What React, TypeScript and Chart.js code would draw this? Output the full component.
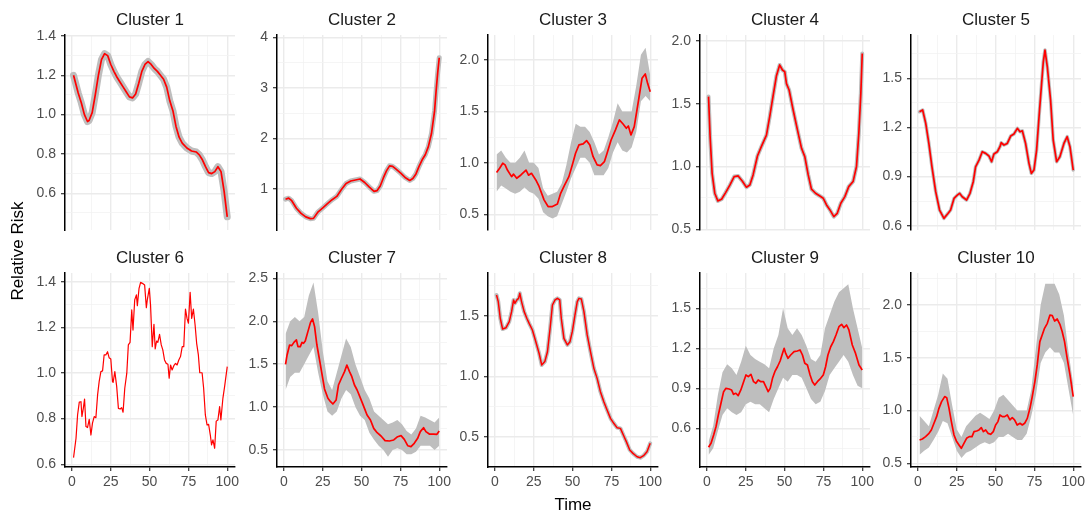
import React, { useEffect, useRef } from "react";
import { Chart, registerables } from "chart.js";

Chart.register(...registerables);

const FONT = '"Liberation Sans", Arial, Helvetica, sans-serif';

// Shared time axis ticks
const timeTicks = [0, 25, 50, 75, 100];
const timeMinor = [12.5, 37.5, 62.5, 87.5];

// Time points of the spread envelopes (grey band of individual trajectories)
const bandT = [1, 4, 7, 10, 13, 16, 19, 22, 25, 28, 31, 34, 37, 40, 43, 46, 49, 52, 55, 58, 61, 64, 67, 70, 73, 76, 79, 82, 85, 88, 91, 94, 97, 100];

// Cluster 1
const c1T = [1, 4, 6, 8, 10, 11, 13, 15, 17, 19, 21, 23, 25, 27, 29, 31, 33, 35, 37, 39, 41, 43, 45, 47, 49, 51, 53, 55, 57, 59, 61, 63, 65, 67, 69, 71, 74, 77, 80, 82, 84, 86, 88, 90, 92, 94, 96, 98, 100];
const c1V = [1.20, 1.11, 1.06, 1.00, 0.965, 0.97, 1.01, 1.10, 1.20, 1.28, 1.31, 1.30, 1.255, 1.22, 1.19, 1.165, 1.14, 1.115, 1.09, 1.085, 1.105, 1.16, 1.22, 1.255, 1.27, 1.255, 1.235, 1.22, 1.20, 1.18, 1.14, 1.07, 1.02, 0.94, 0.885, 0.855, 0.83, 0.815, 0.81, 0.795, 0.77, 0.735, 0.705, 0.70, 0.71, 0.735, 0.71, 0.61, 0.48];

// Cluster 2
const c2T = [1, 3, 5, 8, 11, 14, 17, 19, 22, 25, 28, 31, 34, 37, 40, 43, 46, 49, 52, 55, 58, 60, 62, 64, 66, 68, 70, 72, 75, 78, 81, 83, 85, 87, 89, 91, 93, 95, 97, 98, 99, 100];
const c2V = [0.80, 0.82, 0.77, 0.62, 0.52, 0.45, 0.415, 0.42, 0.55, 0.63, 0.71, 0.79, 0.855, 0.99, 1.11, 1.16, 1.18, 1.20, 1.13, 1.04, 0.955, 0.97, 1.06, 1.22, 1.36, 1.46, 1.45, 1.40, 1.32, 1.23, 1.17, 1.21, 1.30, 1.45, 1.58, 1.68, 1.84, 2.10, 2.55, 2.95, 3.30, 3.60];

// Cluster 3
const c3T = [1, 3, 5, 6.5, 8, 10.7, 12, 14, 16.7, 20, 21.6, 23.5, 26.3, 28.4, 31.6, 34.2, 37, 40.2, 42.3, 44.9, 47.6, 49.8, 51.9, 54.1, 56.8, 59, 61.1, 63.2, 65.8, 67.9, 70.5, 72.2, 74.8, 77.6, 80.1, 82.5, 84.6, 85.9, 87.6, 89.7, 92.5, 94.7, 96.8, 98.3, 100];
const c3V = [0.905, 0.947, 0.996, 0.98, 0.93, 0.866, 0.89, 0.85, 0.882, 0.93, 0.88, 0.898, 0.834, 0.77, 0.64, 0.575, 0.575, 0.60, 0.704, 0.785, 0.866, 0.98, 1.093, 1.174, 1.184, 1.216, 1.174, 1.06, 0.98, 0.973, 1.012, 1.093, 1.222, 1.32, 1.417, 1.378, 1.336, 1.358, 1.271, 1.352, 1.611, 1.822, 1.864, 1.773, 1.692];
const c3Lo = [0.72, 0.78, 0.75, 0.72, 0.70, 0.72, 0.76, 0.72, 0.70, 0.65, 0.52, 0.48, 0.46, 0.48, 0.60, 0.72, 0.85, 0.95, 1.05, 1.05, 1.00, 0.88, 0.88, 0.88, 0.95, 1.10, 1.20, 1.12, 1.10, 1.15, 1.30, 1.60, 1.65, 1.60];
const c3Hi = [1.08, 1.12, 1.05, 1.00, 1.00, 1.05, 1.12, 1.00, 1.00, 0.95, 0.75, 0.68, 0.70, 0.72, 0.80, 0.98, 1.20, 1.38, 1.35, 1.35, 1.30, 1.20, 1.08, 1.12, 1.25, 1.40, 1.58, 1.50, 1.50, 1.50, 1.75, 2.05, 2.12, 1.85];

// Cluster 4
const c4T = [1, 2, 3.3, 5, 7, 9.4, 12, 14.8, 17.5, 20.1, 22.7, 25.4, 27.6, 29.7, 32.5, 35, 38.3, 40.4, 42.5, 44.7, 46.8, 48.6, 50.1, 51.2, 52.9, 55.5, 58.3, 60.9, 63, 65.2, 67.3, 69.9, 72.7, 74.9, 77, 79.2, 81.7, 83.9, 86.2, 88.8, 91.3, 94.1, 96.3, 97.8, 99.1, 100];
const c4V = [1.557, 1.24, 0.946, 0.787, 0.726, 0.739, 0.792, 0.853, 0.92, 0.925, 0.885, 0.835, 0.853, 0.933, 1.084, 1.158, 1.25, 1.397, 1.557, 1.721, 1.809, 1.769, 1.755, 1.66, 1.61, 1.45, 1.29, 1.145, 1.079, 0.933, 0.819, 0.787, 0.765, 0.747, 0.694, 0.654, 0.60, 0.627, 0.707, 0.76, 0.84, 0.88, 1.0, 1.265, 1.583, 1.90];

// Cluster 5
const c5T = [1, 3, 5, 7, 9, 11.4, 13.9, 16.7, 19.3, 21, 23.2, 25.3, 26.8, 28.5, 31.3, 33.5, 35.6, 37.1, 39.3, 41.4, 43.6, 45.7, 47.4, 48.9, 51.1, 52.8, 53.6, 55.4, 57.5, 59.7, 61.8, 64, 65.7, 67.2, 69.3, 71.5, 73, 74.7, 76.4, 78.3, 80.7, 81.8, 83.3, 85.4, 87.1, 89.3, 91.4, 94, 96.1, 97.9, 100];
const c5V = [1.296, 1.307, 1.225, 1.103, 0.96, 0.808, 0.696, 0.645, 0.675, 0.696, 0.767, 0.787, 0.798, 0.777, 0.757, 0.798, 0.869, 0.96, 1.001, 1.052, 1.042, 1.026, 0.991, 1.038, 1.052, 1.083, 1.107, 1.093, 1.103, 1.148, 1.16, 1.195, 1.174, 1.18, 1.103, 0.981, 0.92, 0.94, 1.062, 1.307, 1.60, 1.673, 1.571, 1.368, 1.123, 0.991, 1.021, 1.103, 1.144, 1.083, 0.94];

// Cluster 6
const c6T = [1, 2.6, 3.6, 4.7, 5.8, 6.4, 7.3, 8.1, 9, 10, 11.1, 12.2, 13.2, 14.3, 15.4, 16.5, 17.5, 18.6, 19.7, 20.7, 21.8, 22.9, 23.9, 25, 26.1, 26.5, 27.6, 28.8, 29.9, 31, 32, 32.9, 34, 35.3, 36.3, 37.4, 38.5, 39.3, 40.4, 41.5, 42.1, 43.2, 44.2, 45.3, 46.8, 47.9, 48.5, 49.8, 50.6, 51.7, 52.8, 53.6, 54.5, 55.3, 56.4, 57.5, 58.5, 59.6, 60.7, 61.8, 62.6, 63.5, 64.5, 65.6, 66.7, 67.7, 68.8, 69.9, 71, 72, 73.1, 74.1, 75, 76.1, 77.1, 78.2, 79.3, 80.3, 81.4, 82.3, 83.8, 84.8, 85.9, 87, 88, 89.1, 89.9, 90.8, 91.9, 92.9, 94, 95.1, 95.9, 97.2, 98.3, 100];
const c6V = [0.629, 0.714, 0.816, 0.872, 0.874, 0.809, 0.845, 0.886, 0.765, 0.761, 0.797, 0.728, 0.780, 0.809, 0.804, 0.904, 0.962, 1.006, 1.009, 1.079, 1.079, 1.093, 1.067, 1.061, 0.962, 0.959, 1.006, 0.94, 0.845, 0.842, 0.848, 0.828, 0.933, 0.999, 1.123, 1.134, 1.276, 1.188, 1.320, 1.342, 1.295, 1.371, 1.397, 1.393, 1.385, 1.286, 1.320, 1.371, 1.298, 1.115, 1.213, 1.105, 1.140, 1.134, 1.169, 1.123, 1.101, 1.057, 1.042, 1.038, 0.977, 1.035, 1.013, 1.032, 1.042, 1.035, 1.057, 1.072, 1.115, 1.115, 1.280, 1.239, 1.218, 1.353, 1.239, 1.280, 1.210, 1.130, 1.079, 1.001, 1.001, 0.933, 0.816, 0.772, 0.775, 0.728, 0.685, 0.707, 0.670, 0.789, 0.794, 0.853, 0.794, 0.889, 0.940, 1.028];

// Cluster 7
const c7T = [1, 2, 3.6, 5, 6.4, 8, 9, 10.5, 11.6, 12.6, 13.7, 15.4, 17.1, 18.4, 19.7, 21.2, 22.9, 24.4, 26.1, 28.3, 30, 31.5, 33.6, 35.1, 36.8, 39, 40.5, 42.2, 43.7, 45.4, 47.1, 49.3, 51.4, 53.5, 55.7, 57.8, 60, 62.5, 65.1, 67.9, 70.7, 73.2, 75.4, 77.5, 79.7, 81.8, 83.9, 86.1, 87.8, 89.9, 91.4, 93.6, 96.4, 98.5, 100];
const c7V = [1.498, 1.607, 1.723, 1.716, 1.754, 1.782, 1.704, 1.704, 1.754, 1.743, 1.77, 1.879, 1.987, 2.026, 1.937, 1.723, 1.549, 1.393, 1.211, 1.102, 1.063, 1.036, 1.083, 1.257, 1.327, 1.413, 1.49, 1.413, 1.354, 1.257, 1.199, 1.102, 1.005, 0.908, 0.85, 0.752, 0.702, 0.663, 0.609, 0.605, 0.617, 0.655, 0.667, 0.624, 0.55, 0.539, 0.578, 0.636, 0.714, 0.76, 0.714, 0.686, 0.686, 0.683, 0.721];
const c7Lo = [1.20, 1.35, 1.40, 1.40, 1.50, 1.60, 1.70, 1.40, 1.15, 0.95, 0.90, 0.95, 1.10, 1.20, 1.15, 1.00, 0.90, 0.85, 0.70, 0.62, 0.55, 0.50, 0.42, 0.50, 0.52, 0.50, 0.45, 0.45, 0.48, 0.55, 0.55, 0.55, 0.50, 0.55];
const c7Hi = [1.85, 2.00, 2.05, 2.00, 2.05, 2.30, 2.45, 2.10, 1.65, 1.30, 1.20, 1.40, 1.60, 1.80, 1.70, 1.50, 1.35, 1.20, 1.10, 0.95, 0.90, 0.85, 0.80, 0.82, 0.85, 0.80, 0.72, 0.68, 0.75, 0.90, 0.88, 0.85, 0.82, 0.88];

// Cluster 8
const c8T = [1, 2.1, 3.4, 4.9, 7.1, 9.2, 10.7, 12, 12.8, 14.1, 15.2, 16, 17.1, 18.8, 20.5, 22, 24.1, 26.3, 28.4, 30.1, 32.1, 33.8, 35.5, 37, 38.7, 40.2, 41.7, 42.7, 44.4, 46.6, 48.3, 49.8, 51.5, 53, 54.1, 55.6, 57.3, 59.4, 61.5, 63.7, 65.8, 67.9, 70.1, 72.2, 74.4, 76.5, 78.6, 80.8, 82.9, 84.6, 86.8, 88.9, 91.5, 93.6, 95.7, 97.9, 100];
const c8V = [1.674, 1.619, 1.481, 1.392, 1.403, 1.453, 1.536, 1.633, 1.605, 1.633, 1.646, 1.688, 1.619, 1.536, 1.481, 1.439, 1.384, 1.287, 1.191, 1.094, 1.122, 1.204, 1.398, 1.591, 1.633, 1.646, 1.633, 1.481, 1.315, 1.26, 1.287, 1.37, 1.508, 1.619, 1.646, 1.641, 1.536, 1.343, 1.204, 1.066, 0.983, 0.873, 0.79, 0.721, 0.652, 0.611, 0.575, 0.569, 0.508, 0.459, 0.39, 0.362, 0.334, 0.326, 0.343, 0.376, 0.445];

// Cluster 9
const c9T = [1, 2.6, 4.3, 5.8, 7.3, 9, 10.7, 12.2, 14.3, 15.8, 17.1, 18.6, 20.1, 21.8, 23.6, 25.1, 26.6, 28.3, 30, 31.5, 33, 34.7, 36.4, 37.9, 39.4, 40.7, 42.2, 43.7, 45.4, 47.1, 48.6, 49.7, 50.7, 52.2, 53.9, 56.1, 58.2, 59.9, 61.5, 63, 64.7, 66.4, 67.9, 69.4, 71.1, 73.2, 74.9, 76.4, 77.9, 79.7, 81.4, 83.1, 85, 86.7, 88.2, 89.9, 91.4, 93.6, 95.7, 97.9, 100];
const c9V = [0.458, 0.488, 0.55, 0.612, 0.70, 0.788, 0.875, 0.90, 0.895, 0.888, 0.855, 0.863, 0.845, 0.888, 0.95, 1.0, 0.988, 1.005, 0.95, 0.938, 0.963, 0.95, 0.95, 0.913, 0.875, 0.90, 0.975, 1.025, 1.062, 1.105, 1.162, 1.20, 1.162, 1.125, 1.15, 1.175, 1.18, 1.188, 1.15, 1.088, 1.075, 1.0, 0.95, 0.925, 0.95, 0.975, 1.0, 1.062, 1.15, 1.212, 1.25, 1.30, 1.362, 1.38, 1.355, 1.375, 1.338, 1.225, 1.162, 1.075, 1.038];
const c9Lo = [0.40, 0.45, 0.58, 0.70, 0.75, 0.72, 0.70, 0.72, 0.78, 0.80, 0.78, 0.78, 0.75, 0.72, 0.82, 0.90, 0.98, 0.95, 1.00, 1.00, 0.98, 0.90, 0.82, 0.78, 0.80, 0.88, 1.00, 1.05, 1.10, 1.15, 1.10, 1.00, 0.92, 0.90];
const c9Hi = [0.50, 0.62, 0.85, 1.02, 1.08, 1.05, 1.00, 1.10, 1.22, 1.15, 1.12, 1.10, 1.08, 1.05, 1.20, 1.30, 1.50, 1.35, 1.30, 1.35, 1.30, 1.22, 1.12, 1.10, 1.15, 1.35, 1.45, 1.55, 1.62, 1.65, 1.68, 1.50, 1.35, 1.20];

// Cluster 10
const c10T = [1, 2.8, 4.9, 7.1, 8.6, 10.3, 12, 13.5, 15.2, 17.2, 18.5, 20, 21.5, 23.2, 24.7, 26.4, 27.9, 29.6, 31.3, 33, 34.8, 36.1, 37.8, 39.3, 40.8, 42.1, 43.6, 45.1, 46.8, 48.5, 50, 51.5, 52.8, 54.3, 55.8, 57.5, 59.2, 60.7, 62.2, 63.9, 65.7, 67.2, 68.7, 70.4, 72.1, 73.6, 75.3, 76.8, 78.5, 80, 81.5, 83.3, 85, 86.5, 88, 89.7, 91.4, 92.9, 94.4, 96.1, 97.9, 100];
const c10V = [0.721, 0.73, 0.753, 0.784, 0.816, 0.879, 0.942, 1.021, 1.084, 1.132, 1.122, 1.021, 0.895, 0.768, 0.712, 0.674, 0.642, 0.689, 0.737, 0.753, 0.753, 0.80, 0.806, 0.816, 0.838, 0.80, 0.816, 0.784, 0.775, 0.80, 0.863, 0.895, 0.958, 0.942, 0.942, 0.958, 0.911, 0.933, 0.911, 0.863, 0.879, 0.863, 0.879, 0.926, 1.021, 1.132, 1.274, 1.432, 1.653, 1.716, 1.779, 1.826, 1.905, 1.899, 1.848, 1.867, 1.817, 1.747, 1.653, 1.495, 1.337, 1.132];
const c10Lo = [0.58, 0.62, 0.65, 0.72, 0.80, 0.90, 0.88, 0.75, 0.62, 0.55, 0.60, 0.62, 0.65, 0.68, 0.70, 0.68, 0.70, 0.75, 0.75, 0.78, 0.75, 0.72, 0.72, 0.78, 0.95, 1.15, 1.45, 1.55, 1.60, 1.55, 1.55, 1.45, 1.20, 0.95];
const c10Hi = [0.95, 0.90, 0.85, 1.00, 1.15, 1.35, 1.30, 1.05, 0.82, 0.75, 0.85, 0.90, 0.95, 0.98, 0.95, 0.92, 1.00, 1.12, 1.15, 1.10, 1.05, 1.00, 1.00, 1.00, 1.20, 1.60, 2.00, 2.20, 2.20, 2.20, 2.10, 1.90, 1.55, 1.25];

type PanelSpec = {
  title: string;
  t: number[];
  v: number[];
  lo?: number[];
  hi?: number[];
  halo: number;
  redWidth: number;
  yMin: number;
  yMax: number;
  yTicks: number[];
  dec: number;
  row: number;
  col: number;
};

const panels: PanelSpec[] = [
  { title: "Cluster 1", t: c1T, v: c1V, halo: 7, redWidth: 1.7, yMin: 0.413, yMax: 1.405, yTicks: [0.6, 0.8, 1.0, 1.2, 1.4], dec: 1, row: 0, col: 0 },
  { title: "Cluster 2", t: c2T, v: c2V, halo: 5, redWidth: 1.7, yMin: 0.19, yMax: 4.05, yTicks: [1, 2, 3, 4], dec: 0, row: 0, col: 1 },
  { title: "Cluster 3", t: c3T, v: c3V, lo: c3Lo, hi: c3Hi, halo: 0, redWidth: 1.7, yMin: 0.347, yMax: 2.243, yTicks: [0.5, 1.0, 1.5, 2.0], dec: 1, row: 0, col: 2 },
  { title: "Cluster 4", t: c4T, v: c4V, halo: 4, redWidth: 1.7, yMin: 0.494, yMax: 2.048, yTicks: [0.5, 1.0, 1.5, 2.0], dec: 1, row: 0, col: 3 },
  { title: "Cluster 5", t: c5T, v: c5V, halo: 3.5, redWidth: 1.7, yMin: 0.574, yMax: 1.765, yTicks: [0.6, 0.9, 1.2, 1.5], dec: 1, row: 0, col: 4 },
  { title: "Cluster 6", t: c6T, v: c6V, halo: 0, redWidth: 1.2, yMin: 0.588, yMax: 1.438, yTicks: [0.6, 0.8, 1.0, 1.2, 1.4], dec: 1, row: 1, col: 0 },
  { title: "Cluster 7", t: c7T, v: c7V, lo: c7Lo, hi: c7Hi, halo: 0, redWidth: 1.7, yMin: 0.302, yMax: 2.562, yTicks: [0.5, 1.0, 1.5, 2.0, 2.5], dec: 1, row: 1, col: 1 },
  { title: "Cluster 8", t: c8T, v: c8V, halo: 4, redWidth: 1.5, yMin: 0.249, yMax: 1.856, yTicks: [0.5, 1.0, 1.5], dec: 1, row: 1, col: 2 },
  { title: "Cluster 9", t: c9T, v: c9V, lo: c9Lo, hi: c9Hi, halo: 0, redWidth: 1.7, yMin: 0.31, yMax: 1.765, yTicks: [0.6, 0.9, 1.2, 1.5], dec: 1, row: 1, col: 3 },
  { title: "Cluster 10", t: c10T, v: c10V, lo: c10Lo, hi: c10Hi, halo: 0, redWidth: 1.7, yMin: 0.465, yMax: 2.303, yTicks: [0.5, 1.0, 1.5, 2.0], dec: 1, row: 1, col: 4 },
];

const AXIS_X = [65, 277, 488, 700, 911];
const PLOT_W = 170;
const Y_AXIS_W = 50;
const RIGHT_PAD = 10;
const TITLE_H = 25;
const ROWS = [
  { plotTop: 35, plotH: 195, xAxisH: 0, bottomPad: 14 },
  { plotTop: 273, plotH: 194, xAxisH: 30, bottomPad: 0 },
];

const near = (a: number, list: number[]) => list.some((b) => Math.abs(a - b) < 1e-6);

function minorOf(majors: number[], lo: number, hi: number): number[] {
  const out: number[] = [];
  const step = majors[1] - majors[0];
  const cand = [majors[0] - step / 2];
  for (let i = 0; i < majors.length - 1; i++) cand.push((majors[i] + majors[i + 1]) / 2);
  cand.push(majors[majors.length - 1] + step / 2);
  for (const c of cand) if (c >= lo && c <= hi) out.push(c);
  return out;
}

function Panel({ p }: { p: PanelSpec }) {
  const ref = useRef<HTMLCanvasElement | null>(null);
  const r = ROWS[p.row];
  const bottomRow = p.row === 1;
  const w = Y_AXIS_W + PLOT_W + RIGHT_PAD;
  const h = TITLE_H + r.plotH + r.xAxisH + r.bottomPad;
  const left = AXIS_X[p.col] - Y_AXIS_W;
  const top = r.plotTop - TITLE_H;

  useEffect(() => {
    if (!ref.current) return;
    const datasets: any[] = [];
    if (p.lo && p.hi) {
      datasets.push({
        data: bandT.map((x, i) => ({ x, y: p.lo![i] })),
        borderWidth: 0,
        borderColor: "rgba(0,0,0,0)",
        backgroundColor: "#bebebe",
        pointRadius: 0,
        fill: false,
        order: 3,
      });
      datasets.push({
        data: bandT.map((x, i) => ({ x, y: p.hi![i] })),
        borderWidth: 0,
        borderColor: "rgba(0,0,0,0)",
        backgroundColor: "#bebebe",
        pointRadius: 0,
        fill: "-1",
        order: 2,
      });
    }
    const meanPts = p.t.map((x, i) => ({ x, y: p.v[i] }));
    if (p.halo > 0) {
      datasets.push({
        data: meanPts,
        borderColor: "#bebebe",
        borderWidth: p.halo,
        borderJoinStyle: "round",
        borderCapStyle: "round",
        pointRadius: 0,
        fill: false,
        order: 1,
      });
    }
    datasets.push({
      data: meanPts,
      borderColor: "#ff0000",
      borderWidth: p.redWidth,
      borderJoinStyle: "round",
      pointRadius: 0,
      fill: false,
      order: 0,
    });

    const xAll = [...timeTicks, ...timeMinor].sort((a, b) => a - b);
    const yMinor = minorOf(p.yTicks, p.yMin, p.yMax);
    const yAll = [...p.yTicks, ...yMinor].sort((a, b) => a - b);

    const gridColor = (majors: number[]) => (ctx: any) =>
      ctx.tick && near(ctx.tick.value, majors) ? "#ebebeb" : "#f2f2f2";
    const gridWidth = (majors: number[]) => (ctx: any) =>
      ctx.tick && near(ctx.tick.value, majors) ? 1.4 : 0.8;
    const tickColor = (majors: number[]) => (ctx: any) =>
      ctx.tick && near(ctx.tick.value, majors) ? "#333333" : "rgba(0,0,0,0)";

    const chart = new Chart(ref.current, {
      type: "line",
      data: { datasets },
      options: {
        animation: false,
        responsive: false,
        maintainAspectRatio: false,
        devicePixelRatio: 1,
        layout: { padding: { left: 0, top: 0, right: RIGHT_PAD, bottom: r.bottomPad } },
        elements: { line: { tension: 0 } },
        plugins: {
          legend: { display: false },
          tooltip: { enabled: false },
          title: {
            display: true,
            text: p.title,
            fullSize: false,
            color: "#1a1a1a",
            font: { family: FONT, size: 17, weight: "normal", lineHeight: "20px" },
            padding: { top: 0, bottom: 5 },
          },
        },
        scales: {
          x: {
            type: "linear",
            min: -4.5,
            max: 105,
            afterBuildTicks: (s: any) => {
              s.ticks = xAll.map((v) => ({ value: v }));
            },
            afterFit: (s: any) => {
              s.height = r.xAxisH;
            },
            ticks: {
              display: bottomRow,
              autoSkip: false,
              maxRotation: 0,
              minRotation: 0,
              padding: 3,
              color: "#4d4d4d",
              font: { family: FONT, size: 14 },
              callback: (v: any) => (near(Number(v), timeTicks) ? String(v) : ""),
            },
            grid: {
              color: gridColor(timeTicks),
              lineWidth: gridWidth(timeTicks),
              drawTicks: bottomRow,
              tickLength: 4,
              tickWidth: 1.2,
              tickColor: tickColor(timeTicks),
            },
            border: { display: bottomRow, color: "#000000", width: 1.5 },
          },
          y: {
            type: "linear",
            min: p.yMin,
            max: p.yMax,
            afterBuildTicks: (s: any) => {
              s.ticks = yAll.map((v) => ({ value: v }));
            },
            afterFit: (s: any) => {
              s.width = Y_AXIS_W;
            },
            ticks: {
              autoSkip: false,
              padding: 5,
              color: "#4d4d4d",
              font: { family: FONT, size: 14 },
              callback: (v: any) => (near(Number(v), p.yTicks) ? Number(v).toFixed(p.dec) : ""),
            },
            grid: {
              color: gridColor(p.yTicks),
              lineWidth: gridWidth(p.yTicks),
              drawTicks: true,
              tickLength: 4,
              tickWidth: 1.2,
              tickColor: tickColor(p.yTicks),
            },
            border: { display: true, color: "#000000", width: 1.5 },
          },
        },
      } as any,
    });
    return () => chart.destroy();
  }, [p]);

  return (
    <canvas
      ref={ref}
      width={w}
      height={h}
      style={{ position: "absolute", left, top, width: w, height: h }}
    />
  );
}

export default function App() {
  return (
    <div
      style={{
        position: "absolute",
        left: 0,
        top: 0,
        width: 1086,
        height: 513,
        overflow: "hidden",
        background: "#ffffff",
        fontFamily: FONT,
      }}
    >
      {panels.map((p) => (
        <Panel key={p.title} p={p} />
      ))}
      <div
        style={{
          position: "absolute",
          left: 473,
          top: 495,
          width: 200,
          height: 20,
          lineHeight: "20px",
          textAlign: "center",
          fontSize: 17,
          color: "#000",
        }}
      >
        Time
      </div>
      <div
        style={{
          position: "absolute",
          left: 18 - 100,
          top: 251 - 10,
          width: 200,
          height: 20,
          lineHeight: "20px",
          textAlign: "center",
          fontSize: 17,
          color: "#000",
          transform: "rotate(-90deg)",
        }}
      >
        Relative Risk
      </div>
    </div>
  );
}
